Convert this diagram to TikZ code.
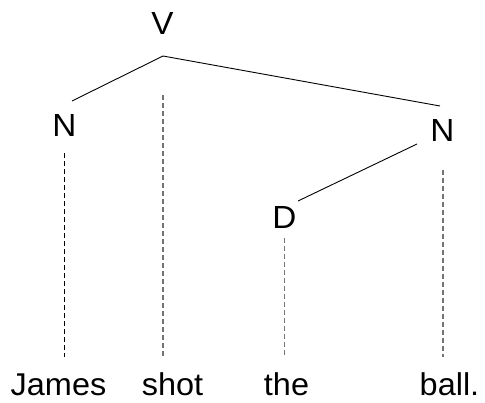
\documentclass[tikz,border=0pt]{standalone}
\usepackage{fontspec}
\setmainfont{Liberation Sans}
\begin{document}
\begin{tikzpicture}[x=1pt,y=-1pt,
  lbl/.style={anchor=base,inner sep=0pt,font=\fontsize{32}{36}\selectfont,xscale=1.04},
  word/.style={anchor=base,inner sep=0pt,font=\fontsize{31.5}{36}\selectfont,xscale=1.03},
  branch/.style={draw=black,line width=0.9pt},
  linkblack/.style={draw=black,line width=0.9pt,dash pattern=on 5pt off 3pt},
  linkgray/.style={draw=black!55,line width=1.3pt,dash pattern=on 5pt off 3pt}]
\useasboundingbox[fill=white] (0,0) rectangle (485,402);
% category labels
\node[lbl] (V)  at (162.5,34.5) {V};
\node[lbl] (NL) at (64.5,136.5) {N};
\node[lbl] (NR) at (442.5,141.5) {N};
\node[lbl] (D)  at (284.5,228) {D};
% words
\node[word] (w1) at (58.5,395) {James};
\node[word] (w2) at (172.5,395) {shot};
\node[word] (w3) at (286.5,395) {the};
\node[word] (w4) at (449.5,395) {ball.};
% branch end points
\coordinate (apex) at (163,56);
\coordinate (nlT) at (72,101);
\coordinate (nrT) at (440,106);
\coordinate (nrB) at (417,144);
\coordinate (dT) at (298,201);
\draw[branch] (nlT) -- (apex) -- (nrT);
\draw[branch] (nrB) -- (dT);
% dashed links
\coordinate (nlB) at (64.5,153);
\coordinate (vB) at (163,95);
\coordinate (dB) at (284.5,238);
\coordinate (nrD) at (443,170);
\coordinate (w1T) at (64.5,357);
\coordinate (w2T) at (163,357);
\coordinate (w3T) at (284.5,357);
\coordinate (w4T) at (443,357);
\draw[linkblack] (nlB) -- (w1T);
\draw[linkgray] (vB) -- (w2T);
\draw[linkgray] (dB) -- (w3T);
\draw[linkgray] (nrD) -- (w4T);
\end{tikzpicture}
\end{document}
